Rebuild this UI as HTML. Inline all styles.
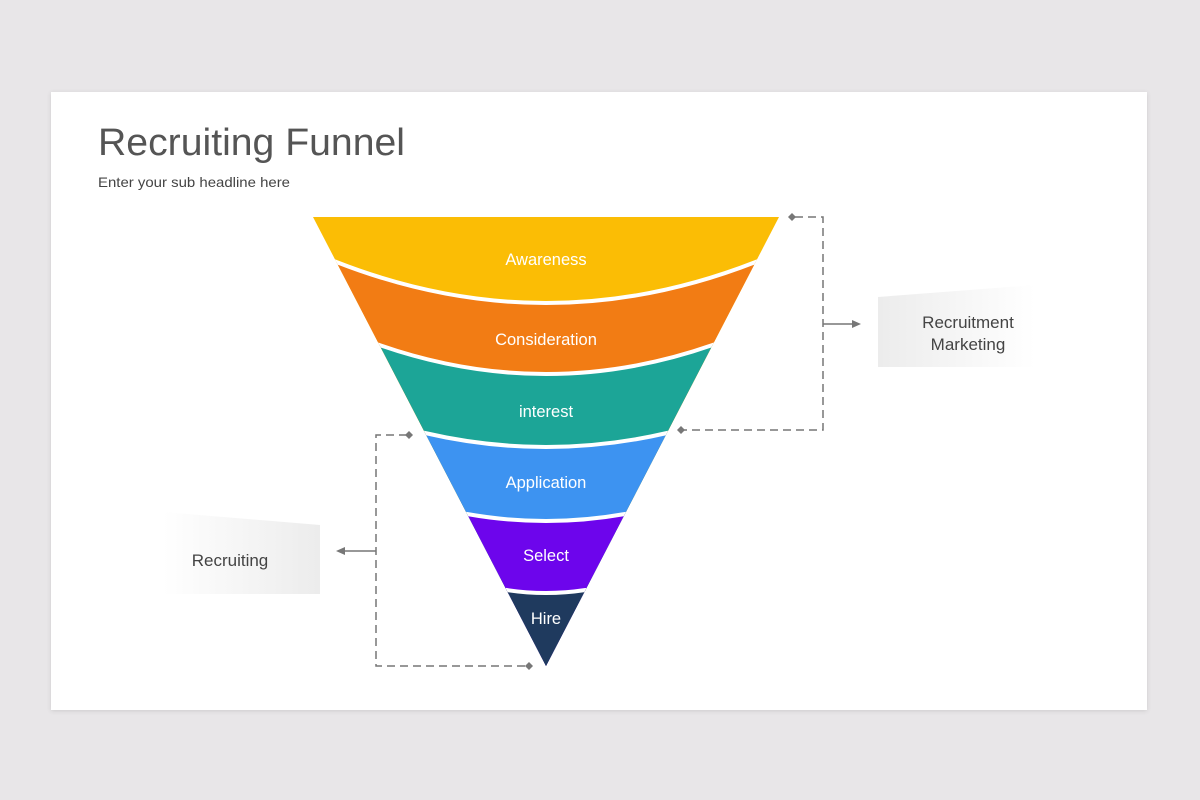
<!DOCTYPE html>
<html><head><meta charset="utf-8"><style>
html,body{margin:0;padding:0;background:#e8e6e8;width:1200px;height:800px;overflow:hidden;position:relative}
svg{display:block;position:absolute;left:0;top:0}
text{font-family:"Liberation Sans",sans-serif}
</style></head><body>
<svg width="1200" height="800" viewBox="0 0 1200 800" xmlns="http://www.w3.org/2000/svg">
<defs>
<filter id="sh" x="-5%" y="-5%" width="110%" height="110%"><feDropShadow dx="0" dy="1" stdDeviation="2" flood-color="#000" flood-opacity="0.12"/></filter>
<clipPath id="tri"><path d="M313,217 L779,217 L546,666 Z"/></clipPath>
<linearGradient id="gR" x1="0" x2="1" y1="0" y2="0"><stop offset="0" stop-color="#ececec"/><stop offset="1" stop-color="#ffffff"/></linearGradient>
<linearGradient id="gL" x1="0" x2="1" y1="0" y2="0"><stop offset="0" stop-color="#ffffff"/><stop offset="1" stop-color="#ececec"/></linearGradient>
</defs>
<rect x="51" y="92" width="1096" height="618" fill="#fff" filter="url(#sh)"/>
<text x="98" y="155" font-size="38" fill="#555" textLength="307" lengthAdjust="spacingAndGlyphs">Recruiting Funnel</text>
<text x="98" y="187" font-size="14" fill="#444" textLength="192" lengthAdjust="spacingAndGlyphs">Enter your sub headline here</text>

<g clip-path="url(#tri)" stroke="#fff" stroke-width="4">
<rect x="300" y="210" width="500" height="470" fill="#fbbd05" stroke="none"/>
<path d="M336.4,262 Q546,344 755.6,262 L800,680 L300,680 Z" fill="#f27c14"/>
<path d="M379.4,345 Q546,403 712.6,345 L800,680 L300,680 Z" fill="#1ca597"/>
<path d="M425,433 Q546,461 667,433 L800,680 L300,680 Z" fill="#3d93f1"/>
<path d="M467,514 Q546,528 625,514 L800,680 L300,680 Z" fill="#6d05ec"/>
<path d="M506.6,590 Q546,596 585.4,590 L800,680 L300,680 Z" fill="#1f3a5e"/>
</g>
<g fill="#fff" font-size="16.5" text-anchor="middle">
<text x="546" y="265">Awareness</text>
<text x="546" y="345">Consideration</text>
<text x="546" y="417">interest</text>
<text x="546" y="488">Application</text>
<text x="546" y="561">Select</text>
<text x="546" y="624">Hire</text>
</g>

<g stroke="#777" stroke-width="1.5" fill="none" stroke-dasharray="8,5">
<path d="M795,217 L823,217 L823,430 L683,430"/>
<path d="M407,435 L376,435 L376,666 L527,666"/>
</g>
<g fill="#777">
<path d="M792,213 L796,217 L792,221 L788,217 Z"/>
<path d="M681,426 L685,430 L681,434 L677,430 Z"/>
<path d="M409,431 L413,435 L409,439 L405,435 Z"/>
<path d="M529,662 L533,666 L529,670 L525,666 Z"/>
<path d="M861,324 L852,320 L852,328 Z"/>
<path d="M336,551 L345,547 L345,555 Z"/>
</g>
<g stroke="#777" stroke-width="1.5">
<line x1="823" y1="324" x2="853" y2="324"/>
<line x1="376" y1="551" x2="344" y2="551"/>
</g>

<path d="M878,297 L1035,285 L1035,367 L878,367 Z" fill="url(#gR)"/>
<text x="968" y="328" font-size="17" fill="#444" text-anchor="middle">Recruitment</text>
<text x="968" y="350" font-size="17" fill="#444" text-anchor="middle">Marketing</text>
<path d="M163,512 L320,525 L320,594 L163,594 Z" fill="url(#gL)"/>
<text x="230" y="566" font-size="17" fill="#444" text-anchor="middle">Recruiting</text>
</svg>
</body></html>
